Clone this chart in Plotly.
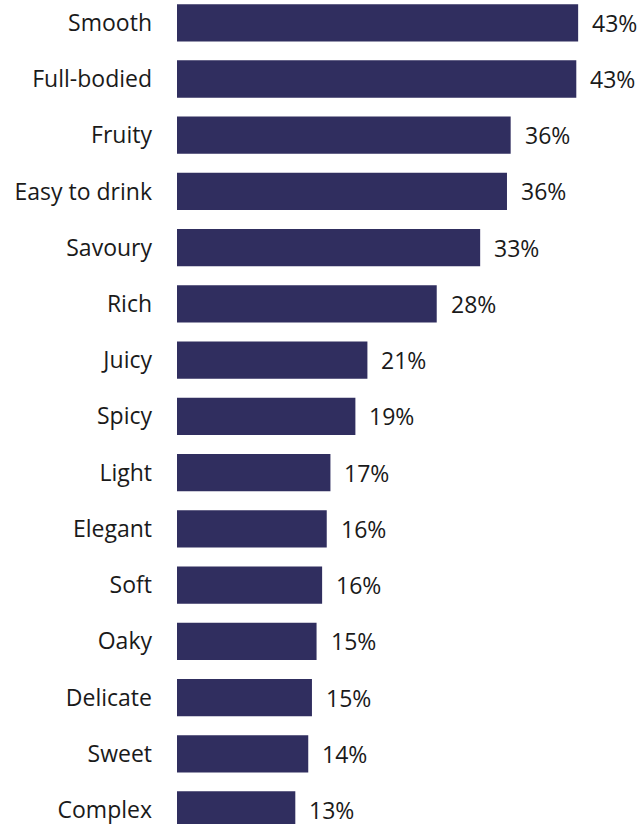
import plotly.graph_objects as go

categories = ["Smooth", "Full-bodied", "Fruity", "Easy to drink", "Savoury", "Rich",
              "Juicy", "Spicy", "Light", "Elegant", "Soft", "Oaky", "Delicate",
              "Sweet", "Complex"]
values = [43.4, 43.2, 36.1, 35.7, 32.8, 28.1, 20.6, 19.3, 16.6, 16.2, 15.7, 15.1,
          14.6, 14.2, 12.8]
labels = [f"{round(v)}%" for v in values]

BAR = "#302e5f"
FONT = "Open Sans"

fig = go.Figure()
fig.add_trace(go.Bar(
    x=values, y=categories, orientation="h",
    marker=dict(color=BAR, line=dict(width=0)),
    width=0.663, hoverinfo="skip",
))

for c, v, t in zip(categories, values, labels):
    fig.add_annotation(x=v, y=c, text=t, showarrow=False, xanchor="left",
                       yanchor="middle", xshift=12,
                       font=dict(family=FONT, size=23, color="#1a1a1a"))

fig.update_layout(
    width=641, height=824,
    margin=dict(l=177, r=0, t=0, b=0),
    paper_bgcolor="white", plot_bgcolor="white",
    showlegend=False,
    font=dict(family=FONT, size=23, color="#1a1a1a"),
    xaxis=dict(range=[0, 50.2], visible=False, fixedrange=True),
    yaxis=dict(type="category", categoryorder="array", categoryarray=categories,
               range=[14.249, -0.405], showgrid=False, zeroline=False,
               showline=False, ticks="", ticklabelstandoff=24,
               tickfont=dict(family=FONT, size=23, color="#1a1a1a")),
)

fig.write_html("out.html", config={"displayModeBar": False})
